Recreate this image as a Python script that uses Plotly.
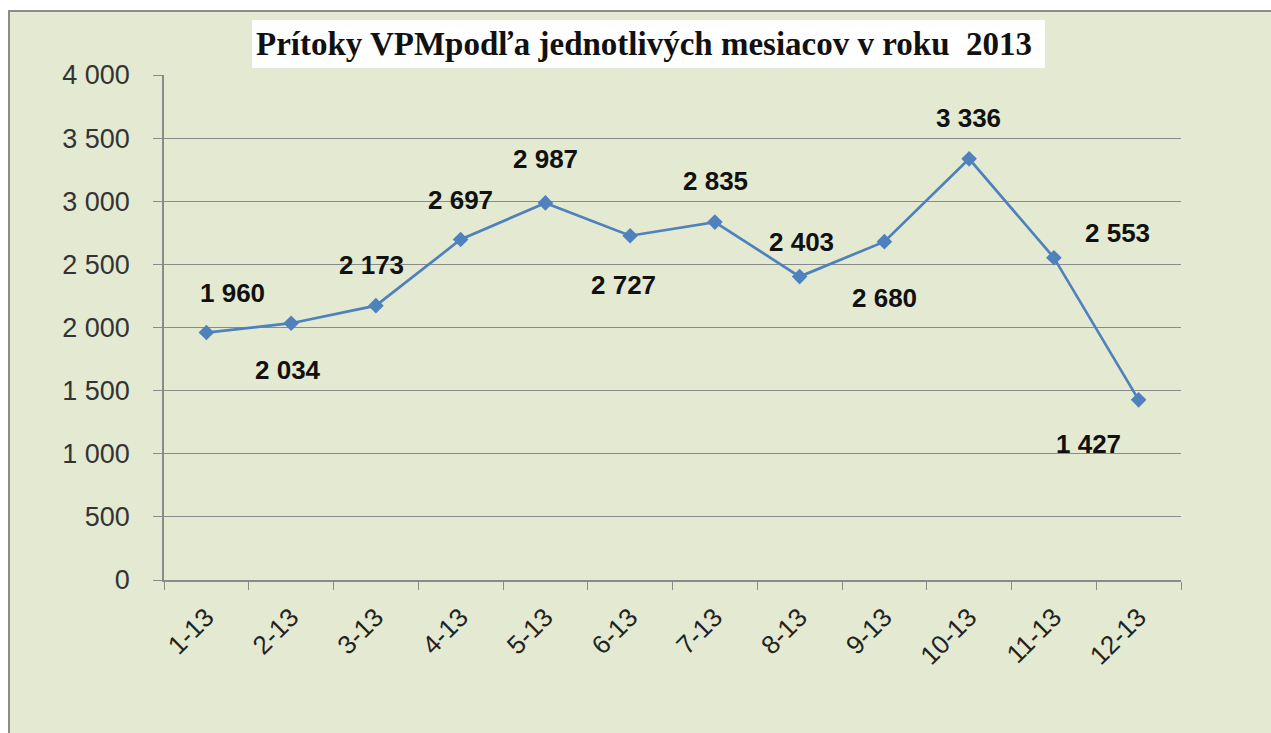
import plotly.graph_objects as go

# ---- data ----
months = ["1-13", "2-13", "3-13", "4-13", "5-13", "6-13",
          "7-13", "8-13", "9-13", "10-13", "11-13", "12-13"]
inflows = [1960, 2034, 2173, 2697, 2987, 2727, 2835, 2403, 2680, 3336, 2553, 1427]
y_ticks = [0, 500, 1000, 1500, 2000, 2500, 3000, 3500, 4000]
y_tick_text = ["0", "500", "1 000", "1 500", "2 000", "2 500", "3 000", "3 500", "4 000"]
title_text = "Prítoky VPMpodľa jednotlivých mesiacov v roku  2013"

# label offsets in pixels (layout only)
label_dx = [26, -3, -4, 0, 0, -7, 1, 2, 0, -1, 64, -50]
label_dy = [40, -47, 41, 40, 44, -49, 41, 35, -56, 41, 25, -44]

W, H = 1271, 733
L, R, T, B = 164, 90, 75, 153
pw, ph = W - L - R, H - T - B

def px(xp):
    return (xp - L) / pw

def py(yp):
    return (H - B - yp) / ph

BLUE = "#4F81BD"
GRID = "#8a8a8a"
BG = "#E3EAD1"

fig = go.Figure()
fig.add_trace(go.Scatter(
    x=months, y=inflows, mode="lines+markers",
    line=dict(color=BLUE, width=2.7),
    marker=dict(symbol="diamond", size=12, color=BLUE),
    hoverinfo="skip", showlegend=False,
))

def fmt(v):
    return f"{v:,}".replace(",", " ")

for m, v, dx, dy in zip(months, inflows, label_dx, label_dy):
    fig.add_annotation(x=m, y=v, text="<b>" + fmt(v) + "</b>", showarrow=False,
                       xshift=dx, yshift=dy,
                       font=dict(family="Liberation Sans", size=26, color="#111111"),
                       xanchor="center", yanchor="middle")

shapes = [
    dict(type="rect", xref="paper", yref="paper",
         x0=px(9), x1=px(W + 5), y0=py(H + 5), y1=py(11),
         fillcolor=BG, line=dict(color="#8c8c8c", width=2), layer="below"),
    dict(type="rect", xref="paper", yref="paper",
         x0=px(252), x1=px(1045), y0=py(68), y1=py(20),
         fillcolor="white", line=dict(width=0), layer="below"),
]

fig.add_annotation(xref="paper", yref="paper", x=px(644), y=py(44),
                   text="<b>" + title_text + "</b>", showarrow=False,
                   xanchor="center", yanchor="middle",
                   font=dict(family="Liberation Serif", size=33, color="#111111"))

fig.update_layout(
    width=W, height=H,
    margin=dict(l=L, r=R, t=T, b=B, pad=0),
    paper_bgcolor="white", plot_bgcolor="white",
    shapes=shapes,
    xaxis=dict(type="category", tickson="boundaries", ticks="outside",
               ticklen=8, tickcolor=GRID, tickwidth=1,
               showline=True, linecolor=GRID, linewidth=1.5,
               showgrid=False, tickangle=-45, ticklabelstandoff=10,
               tickfont=dict(family="Liberation Sans", size=26, color="#222222"),
               range=[-0.5, 11.5]),
    yaxis=dict(range=[0, 4000], tickvals=y_ticks, ticktext=y_tick_text,
               ticks="outside", ticklen=9, tickcolor=GRID,
               showline=True, linecolor=GRID, linewidth=1.5,
               showgrid=True, gridcolor=GRID, gridwidth=1,
               zeroline=False, ticklabelstandoff=18,
               tickfont=dict(family="Liberation Sans", size=27, color="#333333")),
)

fig.write_html("out.html", config={"displayModeBar": False},
               post_script="document.body.style.margin='0';document.body.style.overflow='hidden';")
